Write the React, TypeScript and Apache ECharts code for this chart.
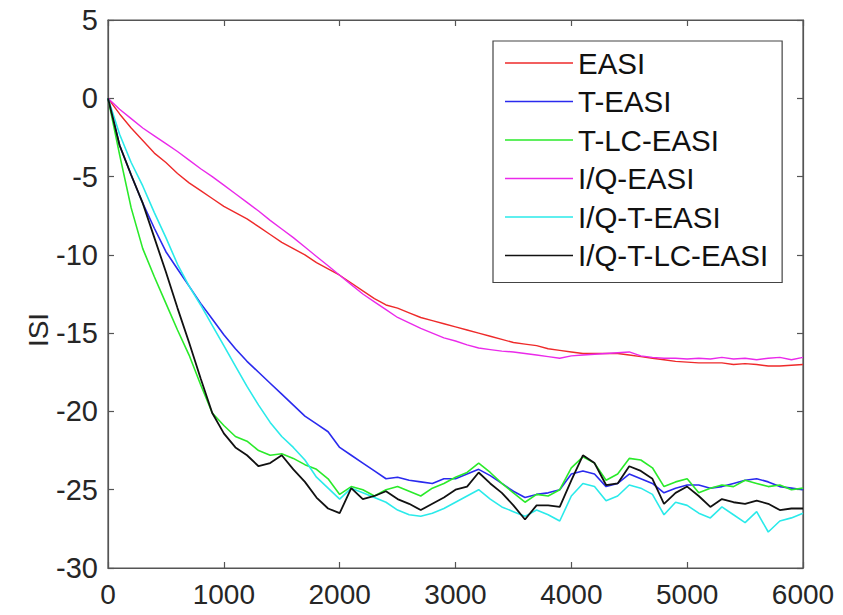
import React, { useEffect, useRef } from "react";
import * as echarts from "echarts";

const xs = Array.from({ length: 61 }, (_, i) => i * 100);

const seriesNames = ["EASI", "T-EASI", "T-LC-EASI", "I/Q-EASI", "I/Q-T-EASI", "I/Q-T-LC-EASI"];

const easi = [
  0, -1.0, -1.9, -2.7, -3.5, -4.1, -4.8, -5.4, -5.9, -6.4,
  -6.9, -7.3, -7.7, -8.2, -8.7, -9.2, -9.6, -10.0, -10.5, -10.9,
  -11.3, -11.8, -12.3, -12.8, -13.2, -13.4, -13.7, -14.0, -14.2, -14.4,
  -14.6, -14.8, -15.0, -15.2, -15.4, -15.6, -15.7, -15.8, -16.0, -16.1,
  -16.2, -16.3, -16.3, -16.3, -16.3, -16.4, -16.5, -16.6, -16.7, -16.8,
  -16.85, -16.9, -16.9, -16.9, -17.0, -16.95, -17.0, -17.1, -17.1, -17.05,
  -17.0,
];

const tEasi = [
  0, -3.0, -4.9, -6.7, -8.3, -9.8, -10.9, -12.0, -13.1, -14.1,
  -15.1, -16.0, -16.8, -17.5, -18.2, -18.9, -19.6, -20.3, -20.8, -21.3,
  -22.3, -22.8, -23.3, -23.8, -24.3, -24.2, -24.4, -24.5, -24.6, -24.3,
  -24.3, -24.0, -23.7, -24.1, -24.6, -25.1, -25.5, -25.3, -25.2, -25.0,
  -24.0, -23.8, -24.0, -24.8, -24.6, -24.0, -24.3, -24.6, -25.2, -24.9,
  -24.7, -24.7, -24.9, -24.8, -24.6, -24.4, -24.3, -24.5, -24.8, -24.9,
  -25.0,
];

const tLcEasi = [
  0, -3.6, -7.0, -9.6, -11.4, -13.1, -14.8, -16.4, -18.3, -20.1,
  -20.9, -21.6, -21.9, -22.5, -22.8, -22.7, -23.0, -23.4, -23.7, -24.3,
  -25.3, -24.8, -25.0, -25.4, -25.0, -24.8, -25.1, -25.4, -24.9, -24.6,
  -24.2, -23.9, -23.3, -23.9, -24.6, -25.2, -25.8, -25.3, -25.4, -25.0,
  -23.6, -22.9, -23.3, -24.4, -24.0, -23.0, -23.1, -23.6, -24.8, -24.5,
  -24.3, -25.2, -24.9, -24.7, -24.8, -24.4, -24.6, -24.8, -24.7, -25.0,
  -24.9,
];

const iqEasi = [
  0, -0.7, -1.3, -1.9, -2.4, -2.9, -3.4, -3.95, -4.5, -5.0,
  -5.55, -6.1, -6.65, -7.2, -7.8, -8.35, -8.9, -9.5, -10.1, -10.7,
  -11.3, -11.9, -12.5, -13.0, -13.5, -14.0, -14.35, -14.7, -15.0, -15.3,
  -15.5, -15.75, -15.95, -16.05, -16.15, -16.2, -16.3, -16.4, -16.5, -16.6,
  -16.45, -16.4, -16.35, -16.3, -16.25, -16.2, -16.45, -16.55, -16.6, -16.6,
  -16.65, -16.6, -16.65, -16.55, -16.65, -16.6, -16.7, -16.6, -16.55, -16.7,
  -16.55,
];

const iqTEasi = [
  0, -2.3, -4.1, -5.6, -7.3, -8.9, -10.6, -12.0, -13.2, -14.5,
  -15.8, -17.1, -18.4, -19.6, -20.7, -21.6, -22.3, -23.1, -24.2, -24.9,
  -25.6, -24.9, -25.2, -25.5, -25.8, -26.3, -26.6, -26.7, -26.5, -26.2,
  -25.8, -25.4, -25.0, -25.6, -26.1, -26.4, -26.7, -26.3, -26.6, -27.0,
  -25.4, -24.6, -24.8, -25.7, -25.4, -24.7, -24.9, -25.3, -26.6, -25.8,
  -26.0, -26.5, -26.8, -26.1, -26.6, -27.1, -26.4, -27.7, -27.0, -26.8,
  -26.5,
];

const iqTLcEasi = [
  0, -3.0, -4.9, -6.7, -8.9, -11.1, -13.4, -15.6, -17.9, -20.1,
  -21.4, -22.3, -22.8, -23.5, -23.3, -22.8, -23.7, -24.5, -25.5, -26.2,
  -26.5, -24.9, -25.6, -25.4, -25.1, -25.6, -25.9, -26.3, -25.9, -25.5,
  -25.0, -24.8, -23.9, -24.6, -25.2, -26.0, -26.9, -26.0, -26.0, -26.1,
  -24.4, -22.8, -23.3, -24.7, -24.6, -23.5, -23.8, -24.3, -25.9, -25.2,
  -24.8, -25.4, -26.1, -25.6, -25.8, -25.9, -25.7, -25.9, -26.3, -26.2,
  -26.2,
];

const seriesValues = [easi, tEasi, tLcEasi, iqEasi, iqTEasi, iqTLcEasi];
const seriesColors = ["#ee2a2a", "#2a2aee", "#2aea2a", "#ea2aea", "#2aeaea", "#111111"];
const seriesWidths = [1.4, 1.6, 1.6, 1.4, 1.6, 1.8];

const xTicks = { min: 0, max: 6000, interval: 1000 };
const yTicks = { min: -30, max: 5, interval: 5 };

const axisColor = "#555555";
const textColor = "#262626";
const fontFamily = "'Liberation Sans', Arial, sans-serif";

export default function App() {
  const ref = useRef<HTMLDivElement>(null);

  useEffect(() => {
    if (!ref.current) return;
    const chart = echarts.init(ref.current, null, { renderer: "svg" });

    const axisCommon = {
      type: "value" as const,
      splitLine: { show: false },
      axisLine: { show: true, onZero: false, lineStyle: { color: axisColor, width: 1.2 } },
      axisTick: { show: true, inside: true, length: 6, lineStyle: { color: axisColor, width: 1.2 } },
    };

    // The I/Q series are bound to the twin (top/right) axes, which share the
    // exact same scale, so the box axes get drawn with their ticks.
    const lineSeries = seriesNames.map((name, i) => ({
      name,
      type: "line",
      xAxisIndex: i >= 3 ? 1 : 0,
      yAxisIndex: i >= 3 ? 1 : 0,
      showSymbol: false,
      symbol: "none",
      smooth: false,
      z: 2 + i,
      data: xs.map((x, j) => [x, seriesValues[i][j]]),
      lineStyle: { color: seriesColors[i], width: seriesWidths[i] },
      itemStyle: { color: seriesColors[i] },
    }));

    chart.setOption({
      animation: false,
      backgroundColor: "#ffffff",
      textStyle: { fontFamily },
      grid: {
        left: 108,
        top: 20,
        right: 40,
        bottom: 47,
        containLabel: false,
        show: true,
        borderColor: axisColor,
        borderWidth: 1.2,
        backgroundColor: "transparent",
      },
      legend: {
        show: true,
        orient: "vertical",
        left: 493,
        top: 41,
        padding: [7, 14, 12, 12],
        itemWidth: 68,
        itemHeight: 29,
        itemGap: 8.5,
        z: 20,
        backgroundColor: "#ffffff",
        borderColor: "#444444",
        borderWidth: 1.2,
        borderRadius: 0,
        icon: "path://M0,0 L100,0 L100,2 L0,2 Z",
        textStyle: { fontSize: 29.5, color: "#111111", fontFamily },
        data: seriesNames,
      },
      xAxis: [
        {
          ...axisCommon,
          position: "bottom",
          ...xTicks,
          axisLabel: {
            show: true,
            fontSize: 28,
            color: textColor,
            margin: 12,
            fontFamily,
            formatter: (v: number) => String(v),
          },
        },
        {
          ...axisCommon,
          position: "top",
          ...xTicks,
          axisLabel: { show: false },
        },
      ],
      yAxis: [
        {
          ...axisCommon,
          position: "left",
          ...yTicks,
          name: "ISI",
          nameLocation: "middle",
          nameGap: 56,
          nameMoveOverlap: false,
          nameTextStyle: { fontSize: 28, color: textColor, fontFamily, padding: [0, 72, 0, 0] },
          axisLabel: {
            show: true,
            fontSize: 29,
            color: textColor,
            margin: 10,
            fontFamily,
            formatter: (v: number) => String(v),
          },
        },
        {
          ...axisCommon,
          position: "right",
          ...yTicks,
          axisLabel: { show: false },
        },
      ],
      series: lineSeries,
    });

    return () => chart.dispose();
  }, []);

  return (
    <div
      ref={ref}
      style={{ position: "fixed", left: 0, top: 0, width: 843, height: 615, background: "#fff" }}
    />
  );
}
